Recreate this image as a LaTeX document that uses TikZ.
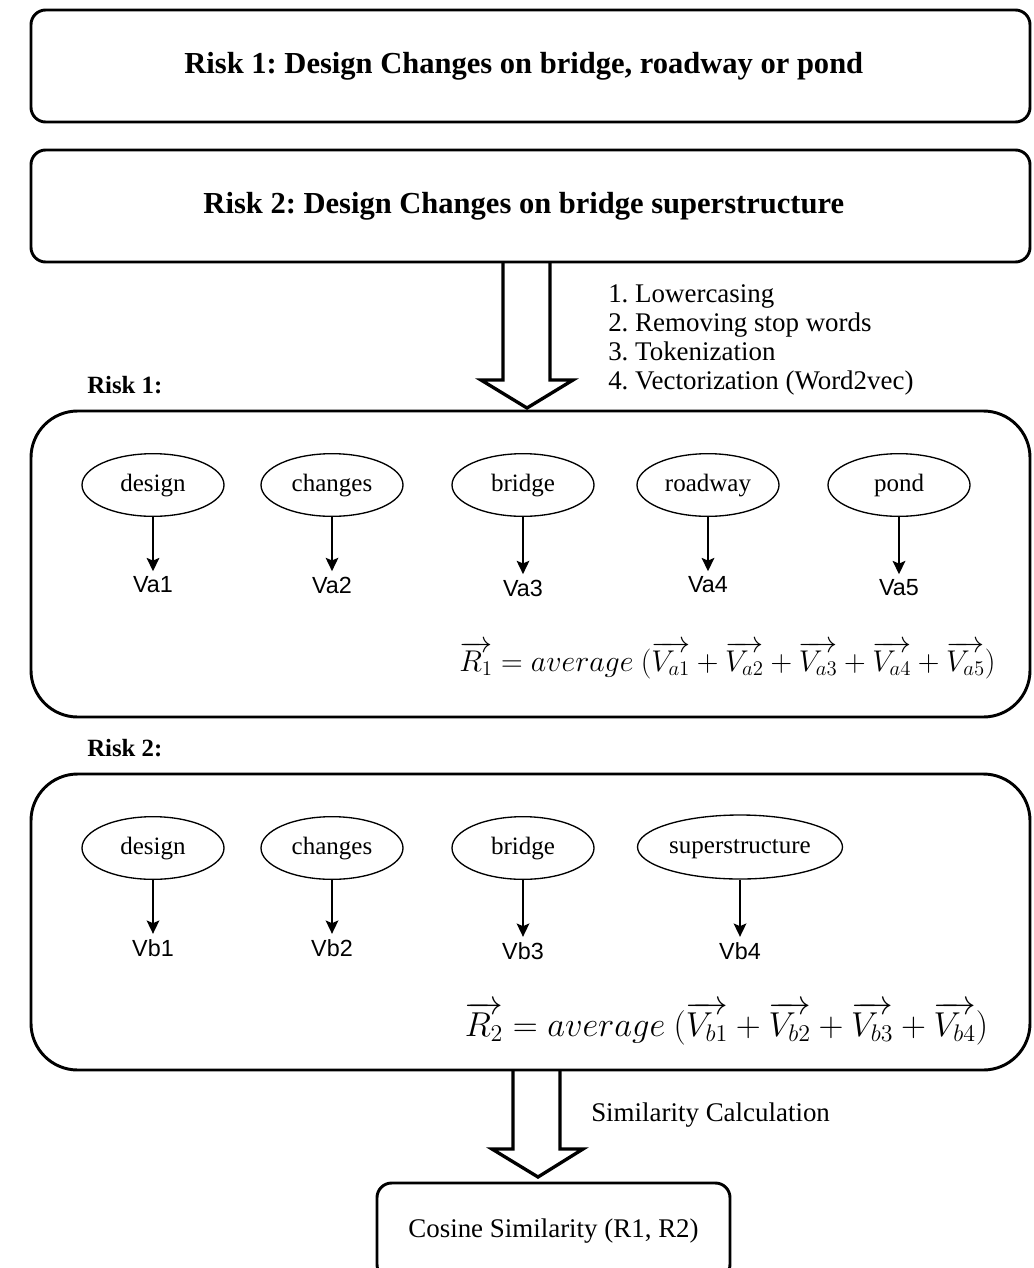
\documentclass[tikz,border=0pt]{standalone}
\usepackage{fontspec}
\setmainfont{Liberation Serif}
\newfontfamily\labelsans{Liberation Sans}
\usetikzlibrary{shapes.geometric,arrows.meta,calc}
\frenchspacing

\begin{document}
\begin{tikzpicture}[x=0.75pt,y=-0.75pt,
  riskbox/.style={draw,line width=2.2pt,rounded corners=11pt,inner sep=0pt,
    font=\fontsize{22.9}{26}\selectfont\bfseries},
  groupbox/.style={draw,line width=2.2pt,rounded corners=35pt,inner sep=0pt},
  word/.style={draw,ellipse,line width=1pt,minimum width=106.5pt,minimum height=47pt,
    inner sep=0pt,text height=13pt,text depth=4pt,font=\fontsize{18.75}{22}\selectfont},
  vec/.style={font=\labelsans\fontsize{17.5}{20}\selectfont,inner sep=0pt},
  tokarrow/.style={-{Stealth[length=10pt,width=9.5pt,inset=2pt]},line width=1.4pt},
  hollow/.style={draw,line width=2.5pt,fill=white,line join=miter},
  grouplabel/.style={anchor=west,inner sep=0pt,font=\fontsize{18.6}{22}\selectfont\bfseries},
  steptext/.style={anchor=west,inner sep=0pt,align=left,font=\fontsize{20.2}{21.75}\selectfont},
  formula/.style={inner sep=0pt,font=\fontsize{20}{24}\selectfont}
]
\useasboundingbox (0,0) rectangle (1033,1268);
\clip (0,0) rectangle (1033,1268);

% hollow block arrows between the stages
\draw[hollow] (503,262) -- (503,380) -- (481,380) -- (527,408) -- (573,380) -- (550,380) -- (550,262);
\draw[hollow] (513,1070) -- (513,1149) -- (492,1149) -- (538,1177) -- (583,1149) -- (560,1149) -- (560,1070);

% risk descriptions (titles sit slightly left of the box centre)
\node[riskbox,minimum width=749.25pt,minimum height=84pt] (risk1) at (530.5,66)
  {\hspace*{-10pt}Risk 1: Design Changes on bridge, roadway or pond};
\node[riskbox,minimum width=749.25pt,minimum height=84pt] (risk2) at (530.5,206)
  {\hspace*{-10pt}Risk 2: Design Changes on bridge superstructure};

% preprocessing steps
\node[steptext] (steps) at (608,339.5)
  {1. Lowercasing\\2. Removing stop words\\3. Tokenization\\4. Vectorization (Word2vec)};

% risk 1 tokens
\node[grouplabel] (lab1) at (87,385) {Risk 1:};
\node[groupbox,minimum width=749.25pt,minimum height=229.5pt] (group1) at (530.5,564) {};

\node[word] (a1) at (153,485) {design};
\node[word] (a2) at (332,485) {changes};
\node[word] (a3) at (523,485) {bridge};
\node[word] (a4) at (708,485) {roadway};
\node[word] (a5) at (899,485) {pond};

\node[vec] (va1) at (153,585) {Va1};
\node[vec] (va2) at (332,585) {Va2};
\node[vec] (va3) at (523,588) {Va3};
\node[vec] (va4) at (708,585) {Va4};
\node[vec] (va5) at (899,588) {Va5};

\foreach \i in {1,...,5} {
  \draw[tokarrow] (a\i.south) -- ([yshift=4pt]va\i.north);
}

\node[formula] (f1) at (727.5,660)
  {\scalebox{1.085}{$\overrightarrow{R_1} = average\ (\overrightarrow{V_{a1}} + \overrightarrow{V_{a2}} + \overrightarrow{V_{a3}} + \overrightarrow{V_{a4}} + \overrightarrow{V_{a5}})$}};

% risk 2 tokens
\node[grouplabel] (lab2) at (87,748) {Risk 2:};
\node[groupbox,minimum width=749.25pt,minimum height=222pt] (group2) at (530.5,922) {};

\node[word] (b1) at (153,848) {design};
\node[word] (b2) at (332,848) {changes};
\node[word] (b3) at (523,848) {bridge};
\node[word,minimum width=153.75pt,minimum height=48pt] (b4) at (740,847) {superstructure};

\node[vec] (vb1) at (153,948) {Vb1};
\node[vec] (vb2) at (332,948) {Vb2};
\node[vec] (vb3) at (523,951) {Vb3};
\node[vec] (vb4) at (740,951) {Vb4};

\foreach \i in {1,...,4} {
  \draw[tokarrow] (b\i.south) -- ([yshift=4pt]vb\i.north);
}

\node[formula] (f2) at (726.5,1023)
  {\scalebox{1.25}{$\overrightarrow{R_2} = average\ (\overrightarrow{V_{b1}} + \overrightarrow{V_{b2}} + \overrightarrow{V_{b3}} + \overrightarrow{V_{b4}})$}};

% similarity step
\node[steptext] (simlab) at (591,1115) {Similarity Calculation};
\node[draw,line width=2.2pt,rounded corners=11pt,minimum width=264.75pt,minimum height=72pt,
  inner sep=0pt] (cos) at (553.5,1231) {};
\node[font=\fontsize{20.2}{24}\selectfont,inner sep=0pt] (costext) at (553.5,1231) {Cosine Similarity (R1, R2)};
\end{tikzpicture}
\end{document}
